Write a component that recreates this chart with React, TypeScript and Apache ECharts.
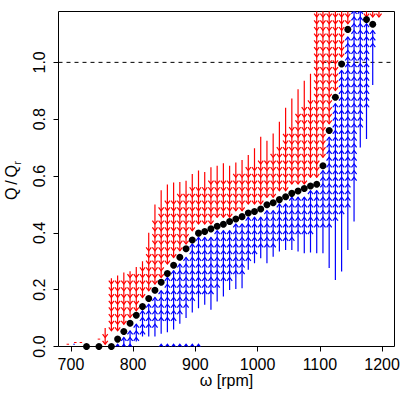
import { useEffect, useRef } from "react";
import * as echarts from "echarts";

// Axis ranges and ticks
const X_MIN = 680;
const X_MAX = 1220;
const Y_MIN = 0;
const Y_MAX = 1.179;
const xTicks = [700, 800, 900, 1000, 1100, 1200];
const yTicks = [0, 0.2, 0.4, 0.6, 0.8, 1.0];
const refLevel = 1.0;

// Arrow-head rows of the quiver grid (y positions where heads sit)
const HEAD_STEP = 0.0235;
const HEAD_OFFSET = 0.008;
const headRows = Array.from({ length: 52 }, (_, k) => HEAD_OFFSET + k * HEAD_STEP);

// Quiver columns (rpm)
const colX = [
  755, 765, 775, 785, 795, 805, 815, 825, 835, 845, 855, 865, 875, 885, 895,
  905, 915, 925, 935, 945, 955, 965, 975, 985, 995, 1005, 1015, 1025, 1035, 1045,
  1055, 1065, 1075, 1085, 1095, 1105, 1115, 1125, 1135, 1145, 1155, 1165, 1175, 1185, 1195,
];
// red (downward) arrows: shaft top, highest head, lowest head bound
const redTop = [
  0.065, 0.24, 0.25, 0.26, 0.265, 0.28, 0.3, 0.4, 0.5, 0.55, 0.57, 0.577, 0.579, 0.583, 0.607,
  0.619, 0.614, 0.631, 0.636, 0.645, 0.636, 0.648, 0.656, 0.674, 0.698, 0.738, 0.724, 0.75, 0.791, 0.84,
  0.873, 0.905, 0.935, 0.96, 1.25, 1.25, 1.25, 1.25, 1.25, 1.25, null, null, 1.25, 1.25, 1.25,
];
const redHeadTop = [
  0.05, 0.22, 0.23, 0.24, 0.245, 0.26, 0.275, 0.36, 0.45, 0.49, 0.51, 0.52, 0.525, 0.53, 0.55,
  0.56, 0.56, 0.575, 0.58, 0.59, 0.59, 0.6, 0.61, 0.62, 0.635, 0.66, 0.66, 0.68, 0.7, 0.74,
  0.78, 0.81, 0.84, 0.87, 1.25, 1.25, 1.25, 1.25, 1.25, 1.25, null, null, 1.25, 1.25, 1.25,
];
const redLow = [
  0.005, 0.05, 0.04, 0.066, 0.095, 0.122, 0.153, 0.181, 0.21, 0.238, 0.269, 0.298, 0.326, 0.356, 0.387,
  0.411, 0.417, 0.426, 0.435, 0.442, 0.452, 0.461, 0.469, 0.482, 0.487, 0.496, 0.511, 0.518, 0.529, 0.539,
  0.551, 0.559, 0.568, 0.577, 0.583, 0.648, 0.772, 0.889, 1.006, 1.128, null, null, 1.155, 1.145, 1.14,
];
// blue (upward) arrows: highest head bound, lowest head, shaft bottom
const blueHigh = [
  null, null, 0.014, 0.041, 0.07, 0.098, 0.129, 0.157, 0.186, 0.214, 0.245, 0.274, 0.302, 0.332, 0.363,
  0.387, 0.393, 0.402, 0.411, 0.418, 0.428, 0.437, 0.445, 0.458, 0.463, 0.472, 0.487, 0.494, 0.505, 0.515,
  0.527, 0.535, 0.544, 0.553, 0.559, 0.624, 0.748, 0.865, 0.982, 1.104, 1.25, 1.25, 1.139, 1.122, null,
];
const blueHeadLow = [
  null, null, 0.008, 0.008, 0.008, 0.03, 0.05, 0.06, 0.07, 0.08, 0.09, 0.1, 0.11, 0.13, 0.15,
  0.18, 0.19, 0.19, 0.21, 0.22, 0.24, 0.25, 0.26, 0.3, 0.32, 0.34, 0.34, 0.36, 0.37, 0.38,
  0.38, 0.39, 0.39, 0.4, 0.41, 0.42, 0.43, 0.44, 0.46, 0.5, 0.58, 0.78, 0.85, 1.05, null,
];
const blueLow = [
  null, null, 0.0, 0.0, 0.0, 0.018, 0.035, 0.035, 0.035, 0.045, 0.05, 0.06, 0.08, 0.1, 0.12,
  0.135, 0.147, 0.129, 0.158, 0.176, 0.199, 0.202, 0.205, 0.27, 0.293, 0.311, 0.293, 0.316, 0.334, 0.34,
  0.34, 0.334, 0.328, 0.331, 0.328, 0.328, 0.276, 0.234, 0.264, 0.34, 0.44, 0.7, 0.73, 0.92, null,
];
// columns with an isolated small upward head at the floor
const floorHeadX = [845, 855, 865, 875, 885, 895, 905];
const floorHeadY = 0.008;

// Equilibrium points (black dots)
const dotX = [
  725, 745, 765, 775, 785, 795, 805, 815, 825, 835, 845, 855, 865, 875, 885, 895,
  905, 915, 925, 935, 945, 955, 965, 975, 985, 995, 1005, 1015, 1025, 1035, 1045,
  1055, 1065, 1075, 1085, 1095, 1105, 1115, 1125, 1135, 1145, 1175, 1185,
];
const dotY = [
  0, 0, 0, 0.026, 0.053, 0.082, 0.11, 0.141, 0.169, 0.198, 0.226, 0.257, 0.286, 0.314, 0.344, 0.375,
  0.399, 0.405, 0.414, 0.423, 0.43, 0.44, 0.449, 0.457, 0.47, 0.475, 0.484, 0.499, 0.506, 0.517, 0.527,
  0.539, 0.547, 0.556, 0.565, 0.571, 0.636, 0.76, 0.877, 0.994, 1.116, 1.151, 1.134,
];

// tiny degenerate arrows near the floor
const tinyRedX = [695, 707, 716, 745];
const tinyRedY = [0.008, 0.014, 0.014, 0.026];
const tinyBlueX = [705];
const tinyBlueY = [0.008];

const RED = "#ff0000";
const BLUE = "#0000ff";
const FONT = '"Liberation Sans", Arial, sans-serif';

export default function App() {
  const ref = useRef<HTMLDivElement>(null);

  useEffect(() => {
    const chart = echarts.init(ref.current!, null, { renderer: "svg" });

    const hw = 2.6;
    const hh = 3.4;
    const LW = 1.2;

    const renderItem = (params: any, api: any) => {
      const i = params.dataIndex;
      const x = colX[i];
      const children: any[] = [];
      const c = (y: number) => api.coord([x, y]);

      const rt = redTop[i], rh = redHeadTop[i], rl = redLow[i];
      if (rt != null && rh != null && rl != null) {
        const heads = headRows.filter((y) => y >= rl && y <= rh);
        const lowY = heads.length ? heads[0] : rl;
        const p1 = c(rt), p2 = c(lowY);
        children.push({
          type: "line",
          shape: { x1: p1[0], y1: p1[1], x2: p2[0], y2: p2[1] },
          style: { stroke: RED, lineWidth: LW },
        });
        heads.forEach((y) => {
          const p = c(y);
          children.push({
            type: "polyline",
            shape: { points: [[p[0] - hw, p[1] - hh], [p[0], p[1]], [p[0] + hw, p[1] - hh]] },
            style: { stroke: RED, lineWidth: LW, fill: "none" },
          });
        });
      }

      const bh = blueHigh[i], bhl = blueHeadLow[i], bl = blueLow[i];
      if (bh != null && bhl != null && bl != null) {
        const heads = headRows.filter((y) => y >= bhl && y <= bh);
        const topY = heads.length ? heads[heads.length - 1] : bh;
        const p1 = c(topY), p2 = c(bl);
        children.push({
          type: "line",
          shape: { x1: p1[0], y1: p1[1], x2: p2[0], y2: p2[1] },
          style: { stroke: BLUE, lineWidth: LW },
        });
        heads.forEach((y) => {
          const p = c(y);
          children.push({
            type: "polyline",
            shape: { points: [[p[0] - hw, p[1] + hh], [p[0], p[1]], [p[0] + hw, p[1] + hh]] },
            style: { stroke: BLUE, lineWidth: LW, fill: "none" },
          });
        });
      }

      if (floorHeadX.indexOf(x) >= 0) {
        const p = c(floorHeadY);
        children.push({
          type: "polyline",
          shape: { points: [[p[0] - hw, p[1] + hh], [p[0], p[1]], [p[0] + hw, p[1] + hh]] },
          style: { stroke: BLUE, lineWidth: LW, fill: "none" },
        });
      }
      return { type: "group", children };
    };

    const option: any = {
      animation: false,
      backgroundColor: "#ffffff",
      textStyle: { fontFamily: FONT },
      grid: {
        left: 58.5,
        top: 11.5,
        right: 12.5,
        bottom: 60.5,
        show: true,
        borderColor: "#000",
        borderWidth: 1,
        backgroundColor: "transparent",
        containLabel: false,
        outerBoundsMode: "none",
      },
      xAxis: {
        type: "value",
        min: X_MIN,
        max: X_MAX,
        axisLine: { show: false },
        splitLine: { show: false },
        axisTick: { show: true, length: 5, lineStyle: { color: "#000", width: 1 }, customValues: xTicks },
        axisLabel: {
          customValues: xTicks,
          margin: 10,
          color: "#000",
          fontSize: 16,
          fontFamily: FONT,
          formatter: (v: number) => String(v),
        },
      },
      yAxis: {
        type: "value",
        min: Y_MIN,
        max: Y_MAX,
        axisLine: { show: false },
        splitLine: { show: false },
        axisTick: { show: true, length: 5, lineStyle: { color: "#000", width: 1 }, customValues: yTicks },
        axisLabel: {
          customValues: yTicks,
          rotate: 90,
          margin: 11,
          color: "#000",
          fontSize: 16,
          fontFamily: FONT,
          formatter: (v: number) => v.toFixed(1),
        },
      },
      series: [
        {
          type: "line",
          data: [[X_MIN, refLevel], [X_MAX, refLevel]],
          symbol: "none",
          lineStyle: { color: "#000", width: 1, type: [4, 4] },
          z: 1,
          silent: true,
        },
        {
          type: "custom",
          renderItem,
          data: colX.map((x) => [x, 0]),
          encode: { x: 0, y: 1 },
          clip: true,
          z: 2,
          silent: true,
        },
        {
          type: "scatter",
          data: tinyRedX.map((x, i) => [x, tinyRedY[i]]),
          symbol: "rect",
          symbolSize: [2.5, 1],
          itemStyle: { color: RED, opacity: 1 },
          z: 3,
          silent: true,
        },
        {
          type: "scatter",
          data: tinyBlueX.map((x, i) => [x, tinyBlueY[i]]),
          symbol: "rect",
          symbolSize: [1.5, 1],
          itemStyle: { color: BLUE, opacity: 1 },
          z: 3,
          silent: true,
        },
        {
          type: "scatter",
          data: dotX.map((x, i) => [x, dotY[i]]),
          symbol: "circle",
          symbolSize: 7,
          itemStyle: { color: "#000", opacity: 1 },
          z: 4,
          silent: true,
        },
      ],
      graphic: [
        {
          type: "text",
          x: 11.8,
          y: 200,
          rotation: Math.PI / 2,
          style: { text: "Q", font: `16px ${FONT}`, textAlign: "left", textVerticalAlign: "middle", align: "left", verticalAlign: "middle", fill: "#000" },
        },
        {
          type: "text",
          x: 11.8,
          y: 182.5,
          rotation: Math.PI / 2,
          style: { text: "/", font: `16px ${FONT}`, textAlign: "center", textVerticalAlign: "middle", align: "center", verticalAlign: "middle", fill: "#000" },
        },
        {
          type: "text",
          x: 11.8,
          y: 165,
          rotation: Math.PI / 2,
          style: { text: "Q", font: `16px ${FONT}`, textAlign: "right", textVerticalAlign: "middle", align: "right", verticalAlign: "middle", fill: "#000" },
        },
        {
          type: "text",
          x: 17,
          y: 164.5,
          rotation: Math.PI / 2,
          style: { text: "r", font: `10px ${FONT}`, textAlign: "left", textVerticalAlign: "middle", align: "left", verticalAlign: "middle", fill: "#000" },
        },
        {
          type: "text",
          x: 226.5,
          y: 380,
          style: { text: "ω [rpm]", font: `16px ${FONT}`, textAlign: "center", textVerticalAlign: "middle", align: "center", verticalAlign: "middle", fill: "#000" },
        },
      ],
    };

    chart.setOption(option);
    return () => chart.dispose();
  }, []);

  return (
    <div
      ref={ref}
      style={{ position: "fixed", left: 0, top: 0, width: 407, height: 407, background: "#fff" }}
    />
  );
}
